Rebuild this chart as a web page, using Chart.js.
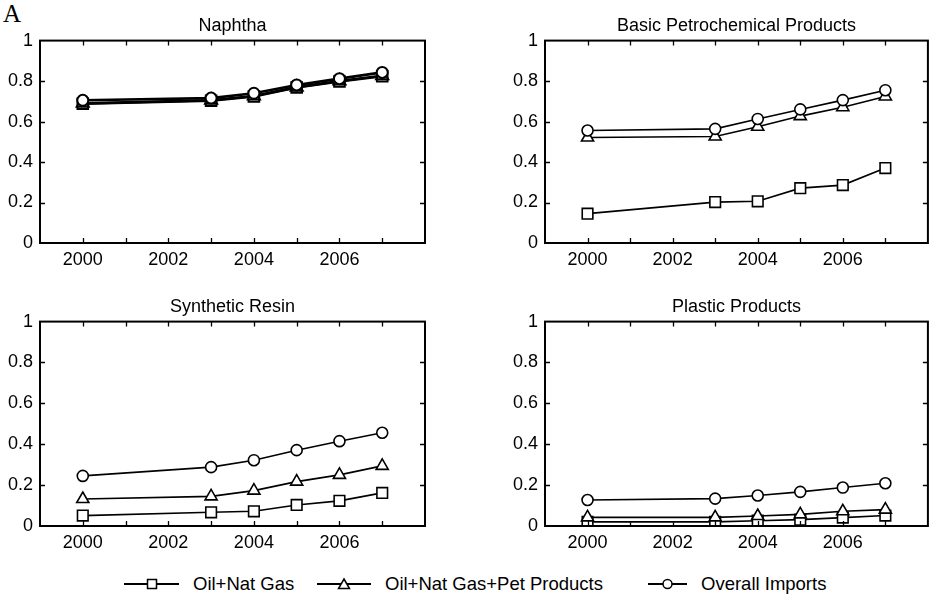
<!DOCTYPE html>
<html>
<head>
<meta charset="utf-8">
<script src="https://cdn.jsdelivr.net/npm/chart.js@4.4.1/dist/chart.umd.min.js"></script>
<style>
  body { margin: 0; background: #fff; }
  #wrap { position: relative; width: 937px; height: 597px; overflow: hidden; background: #fff; }
  .panel { position: absolute; }
  #letter { position: absolute; left: 3px; top: 0px; font: 25px "Liberation Serif", serif; color: #000; }
  #legend { position: absolute; top: 572px; left: 0; width: 937px; height: 24px;
            font: 18.5px "Liberation Sans", Arial, sans-serif; color: #000; }
  .item { position: absolute; top: 0; display: flex; align-items: center; height: 24px; }
  .item svg { margin-right: 14px; }
</style>
</head>
<body>
<div id="wrap">
  <div id="letter">A</div>
  <canvas id="c0" class="panel"></canvas>
  <canvas id="c1" class="panel"></canvas>
  <canvas id="c2" class="panel"></canvas>
  <canvas id="c3" class="panel"></canvas>
  <div id="legend"></div>
</div>
<script>
// ---- data ----
const years = [2000, 2003, 2004, 2005, 2006, 2007];
const seriesNames = ["Oil+Nat Gas", "Oil+Nat Gas+Pet Products", "Overall Imports"];
const panelTitles = ["Naphtha", "Basic Petrochemical Products", "Synthetic Resin", "Plastic Products"];

const naphthaOil = [0.688, 0.703, 0.724, 0.768, 0.798, 0.824];
const naphthaPet = [0.690, 0.705, 0.726, 0.770, 0.800, 0.826];
const naphthaAll = [0.705, 0.716, 0.740, 0.781, 0.812, 0.843];

const basicOil = [0.145, 0.202, 0.206, 0.271, 0.286, 0.370];
const basicPet = [0.521, 0.526, 0.574, 0.627, 0.671, 0.724];
const basicAll = [0.556, 0.564, 0.613, 0.660, 0.706, 0.755];

const resinOil = [0.051, 0.067, 0.072, 0.103, 0.123, 0.162];
const resinPet = [0.132, 0.145, 0.173, 0.217, 0.250, 0.294];
const resinAll = [0.245, 0.288, 0.322, 0.371, 0.415, 0.456];

const plasticOil = [0.020, 0.020, 0.026, 0.031, 0.041, 0.051];
const plasticPet = [0.042, 0.042, 0.049, 0.057, 0.072, 0.080];
const plasticAll = [0.127, 0.134, 0.149, 0.167, 0.188, 0.209];

const yTicks = [0, 0.2, 0.4, 0.6, 0.8, 1];
const xLabelYears = [2000, 2002, 2004, 2006];

const panelData = [
  [naphthaOil, naphthaPet, naphthaAll],
  [basicOil, basicPet, basicAll],
  [resinOil, resinPet, resinAll],
  [plasticOil, plasticPet, plasticAll],
];

// canvas placement: [left, top, width, height]
const boxes = [
  [0, 0, 470, 275],
  [505, 0, 432, 275],
  [0, 281, 470, 277],
  [505, 281, 432, 277],
];

const FONT = "'Liberation Sans', Arial, sans-serif";
const pointStyles = ["rect", "triangle", "circle"];
const pointSizes = [7.5, 7, 5.5];

// frame + inward ticks on all four sides
const framePlugin = {
  id: "frame",
  afterDraw(chart) {
    const { ctx, chartArea: a, scales } = chart;
    ctx.save();
    ctx.strokeStyle = "#000";
    ctx.lineWidth = 1.3;
    ctx.beginPath();
    for (let yr = 2000; yr <= 2007; yr++) {
      const x = Math.round(scales.x.getPixelForValue(yr)) + 0.5;
      ctx.moveTo(x, a.bottom); ctx.lineTo(x, a.bottom - 5);
      ctx.moveTo(x, a.top); ctx.lineTo(x, a.top + 5);
    }
    yTicks.slice(1, -1).forEach(v => {
      const y = Math.round(scales.y.getPixelForValue(v)) + 0.5;
      ctx.moveTo(a.left, y); ctx.lineTo(a.left + 5, y);
      ctx.moveTo(a.right, y); ctx.lineTo(a.right - 5, y);
    });
    ctx.stroke();
    ctx.lineWidth = 2;
    ctx.strokeRect(a.left, a.top, a.right - a.left, a.bottom - a.top);
    ctx.restore();
  }
};

function makePanel(i) {
  const [l, t, w, h] = boxes[i];
  const cv = document.getElementById("c" + i);
  cv.style.left = l + "px";
  cv.style.top = t + "px";
  cv.style.width = w + "px";
  cv.style.height = h + "px";
  cv.width = w;
  cv.height = h;
  const rightPad = i % 2 === 0 ? 45 : 5;

  // circles on top, squares at the bottom of the stack
  const datasets = panelData[i].map((vals, k) => ({
    label: seriesNames[k],
    data: years.map((yr, j) => ({ x: yr, y: vals[j] })),
    order: 2 - k,
    borderColor: "#000",
    borderWidth: i === 0 ? 2.6 : 1.6,
    backgroundColor: "#fff",
    pointStyle: pointStyles[k],
    pointRadius: pointSizes[k],
    pointBorderColor: "#000",
    pointBackgroundColor: "#fff",
    pointBorderWidth: i === 0 ? 2 : 1.6,
    tension: 0,
  }));

  return new Chart(cv, {
    type: "line",
    data: { datasets },
    options: {
      responsive: false,
      animation: false,
      layout: { padding: { left: 0, right: rightPad, top: 0, bottom: 0 } },
      plugins: {
        legend: { display: false },
        tooltip: { enabled: false },
        title: {
          display: true,
          text: panelTitles[i],
          fullSize: false,
          color: "#000",
          font: { family: FONT, size: 18, weight: "normal" },
          padding: { top: 15, bottom: 4 },
        },
      },
      scales: {
        x: {
          type: "linear",
          min: 1999,
          max: 2008,
          afterBuildTicks(scale) {
            const ticks = [];
            for (let yr = 1999; yr <= 2008; yr++) ticks.push({ value: yr });
            scale.ticks = ticks;
          },
          afterFit(scale) { scale.height = 32; },
          grid: { display: false, drawTicks: false },
          border: { display: false },
          ticks: {
            autoSkip: false,
            maxRotation: 0,
            padding: 6,
            color: "#000",
            font: { family: FONT, size: 18 },
            callback: v => (xLabelYears.includes(v) ? String(v) : ""),
          },
        },
        y: {
          min: 0,
          max: 1,
          afterBuildTicks(scale) { scale.ticks = yTicks.map(v => ({ value: v })); },
          afterFit(scale) { scale.width = 40; },
          grid: { display: false, drawTicks: false },
          border: { display: false },
          ticks: {
            padding: 7,
            color: "#000",
            font: { family: FONT, size: 18 },
            callback: v => String(v),
          },
        },
      },
    },
    plugins: [framePlugin],
  });
}

for (let i = 0; i < 4; i++) makePanel(i);

// legend
const legendSpots = [124, 317, 648];
const marker = [
  '<rect x="23.5" y="6.5" width="9" height="9" fill="#fff" stroke="#000" stroke-width="1.5"/>',
  '<polygon points="27,6 32.5,15.5 21.5,15.5" fill="#fff" stroke="#000" stroke-width="1.5"/>',
  '<circle cx="19.5" cy="11" r="4.5" fill="#fff" stroke="#000" stroke-width="1.5"/>',
];
const lineWidths = [55, 54, 39];
const legend = document.getElementById("legend");
seriesNames.forEach((name, k) => {
  const d = document.createElement("div");
  d.className = "item";
  d.style.left = legendSpots[k] + "px";
  const lw = lineWidths[k];
  d.innerHTML =
    '<svg width="' + lw + '" height="22"><line x1="0" y1="11" x2="' + lw +
    '" y2="11" stroke="#000" stroke-width="1.8"/>' + marker[k] + "</svg>" +
    "<span>" + name + "</span>";
  legend.appendChild(d);
});
</script>
</body>
</html>
